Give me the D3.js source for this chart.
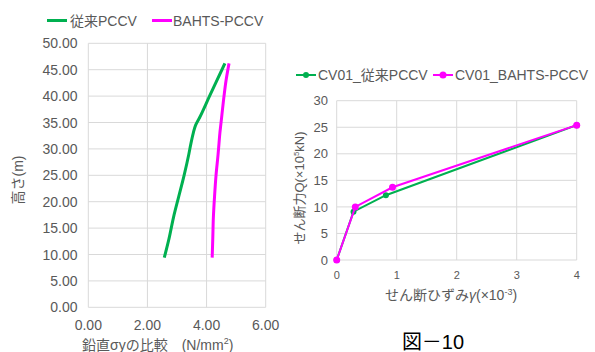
<!DOCTYPE html>
<html><head><meta charset="utf-8">
<script src="https://cdn.jsdelivr.net/npm/d3@7"></script>
<style>
html,body{margin:0;padding:0;background:#fff;}
text{font-family:"Liberation Sans",Arial,"Noto Sans CJK JP",sans-serif;fill:#595959;}
</style></head>
<body><svg id="c" width="595" height="352"></svg>
<script>
// Left chart data
const heights = [9.4, 13, 17, 21, 25, 29, 31, 33, 34.5, 36, 40, 43, 46.2];
const sigmaConventional = [2.57, 2.73, 2.88, 3.06, 3.24, 3.40, 3.47, 3.55, 3.63, 3.77, 4.10, 4.35, 4.62];
const sigmaBAHTS = [4.19, 4.21, 4.23, 4.27, 4.32, 4.39, 4.42, 4.45, 4.48, 4.51, 4.59, 4.66, 4.76];
const leftXTicks = [0, 2, 4, 6];
const leftYTicks = [0, 5, 10, 15, 20, 25, 30, 35, 40, 45, 50];
// Right chart data
const gammaConventional = [0, 0.28, 0.82, 4.0];
const shearConventional = [0, 9.1, 12.2, 25.4];
const gammaBAHTS = [0, 0.31, 0.93, 4.0];
const shearBAHTS = [0, 10.0, 13.7, 25.4];
const rightXTicks = [0, 1, 2, 3, 4];
const rightYTicks = [0, 5, 10, 15, 20, 25, 30];

const GREEN = "#00B050", MAGENTA = "#FF00FF", GRID = "#d9d9d9";
const svg = d3.select("#c");

// ---------- Left chart ----------
const lx = d3.scaleLinear().domain([0, 6]).range([88.3, 265.7]);
const ly = d3.scaleLinear().domain([0, 50]).range([307.3, 43.3]);
const L = svg.append("g");
L.selectAll(".vg").data(leftXTicks).enter().append("line")
  .attr("x1", d => lx(d)).attr("x2", d => lx(d)).attr("y1", ly(0)).attr("y2", ly(50))
  .attr("stroke", GRID).attr("stroke-width", 1);
L.selectAll(".hg").data(leftYTicks).enter().append("line")
  .attr("x1", lx(0)).attr("x2", lx(6)).attr("y1", d => ly(d)).attr("y2", d => ly(d))
  .attr("stroke", GRID).attr("stroke-width", 1);
L.selectAll(".yt").data(leftYTicks).enter().append("text")
  .attr("x", 77.5).attr("y", d => ly(d)).attr("dy", "0.36em")
  .attr("text-anchor", "end").attr("font-size", 14).text(d => d.toFixed(2));
L.selectAll(".xt").data(leftXTicks).enter().append("text")
  .attr("x", d => lx(d)).attr("y", 330).attr("text-anchor", "middle")
  .attr("font-size", 14).text(d => d.toFixed(2));
const lline = d3.line().x(d => lx(d[0])).y(d => ly(d[1])).curve(d3.curveMonotoneY);
L.append("path").datum(sigmaConventional.map((v, i) => [v, heights[i]]))
  .attr("d", lline).attr("fill", "none").attr("stroke", GREEN).attr("stroke-width", 3);
L.append("path").datum(sigmaBAHTS.map((v, i) => [v, heights[i]]))
  .attr("d", lline).attr("fill", "none").attr("stroke", MAGENTA).attr("stroke-width", 3);
// left axis titles
L.append("text").attr("transform", "translate(23,180) rotate(-90)")
  .attr("text-anchor", "middle").attr("font-size", 14).style("fill", "#595959").text("高さ(m)");
const lxt = L.append("text").attr("x", 82).attr("y", 350).attr("font-size", 14);
lxt.append("tspan").text("鉛直σyの比較　(N/mm");
lxt.append("tspan").attr("font-size", 9).attr("dy", -6).text("2");
lxt.append("tspan").attr("dy", 6).text(")");
// left legend
L.append("line").attr("x1", 47).attr("x2", 67).attr("y1", 20.5).attr("y2", 20.5)
  .attr("stroke", GREEN).attr("stroke-width", 3);
L.append("text").attr("x", 70).attr("y", 25.5).attr("font-size", 14).text("従来PCCV");
L.append("line").attr("x1", 152).attr("x2", 172).attr("y1", 20.5).attr("y2", 20.5)
  .attr("stroke", MAGENTA).attr("stroke-width", 3);
L.append("text").attr("x", 173).attr("y", 25.5).attr("font-size", 14).text("BAHTS-PCCV");

// ---------- Right chart ----------
const rx = d3.scaleLinear().domain([0, 4]).range([336.7, 576.7]);
const ry = d3.scaleLinear().domain([0, 30]).range([260, 100.7]);
const R = svg.append("g");
R.selectAll(".vg").data(rightXTicks).enter().append("line")
  .attr("x1", d => rx(d)).attr("x2", d => rx(d)).attr("y1", ry(0)).attr("y2", ry(30))
  .attr("stroke", GRID).attr("stroke-width", 1);
R.selectAll(".hg").data(rightYTicks).enter().append("line")
  .attr("x1", rx(0)).attr("x2", rx(4)).attr("y1", d => ry(d)).attr("y2", d => ry(d))
  .attr("stroke", GRID).attr("stroke-width", 1);
R.selectAll(".yt").data(rightYTicks).enter().append("text")
  .attr("x", 328).attr("y", d => ry(d)).attr("dy", "0.36em")
  .attr("text-anchor", "end").attr("font-size", 13).text(d => d);
R.selectAll(".xt").data(rightXTicks).enter().append("text")
  .attr("x", d => rx(d)).attr("y", 279).attr("text-anchor", "middle")
  .attr("font-size", 11).text(d => d);
const rline = d3.line().x(d => rx(d[0])).y(d => ry(d[1]));
const series = [
  {g: gammaConventional, q: shearConventional, c: GREEN, r: 3},
  {g: gammaBAHTS, q: shearBAHTS, c: MAGENTA, r: 3.5}
];
series.forEach(s => {
  const pts = s.g.map((v, i) => [v, s.q[i]]);
  R.append("path").datum(pts).attr("d", rline).attr("fill", "none")
    .attr("stroke", s.c).attr("stroke-width", 2);
  R.selectAll(null).data(pts).enter().append("circle")
    .attr("cx", d => rx(d[0])).attr("cy", d => ry(d[1])).attr("r", s.r).attr("fill", s.c);
});
// right axis titles
const ryt = R.append("text").attr("transform", "translate(304,188) rotate(-90)")
  .attr("text-anchor", "middle").attr("font-size", 13);
ryt.append("tspan").text("せん断力Q(×10");
ryt.append("tspan").attr("font-size", 8).attr("dy", -5).text("5");
ryt.append("tspan").attr("dy", 5).text("kN)");
const rxt = R.append("text").attr("x", 385).attr("y", 300).attr("font-size", 14);
rxt.append("tspan").text("せん断ひずみ");
rxt.append("tspan").attr("font-style", "italic").text("γ");
rxt.append("tspan").text("(×10");
rxt.append("tspan").attr("font-size", 9).attr("dy", -5).text("-3");
rxt.append("tspan").attr("dy", 5).text(")");
// right legend
R.append("line").attr("x1", 296).attr("x2", 316).attr("y1", 75).attr("y2", 75)
  .attr("stroke", GREEN).attr("stroke-width", 2);
R.append("circle").attr("cx", 306).attr("cy", 75).attr("r", 3).attr("fill", GREEN);
R.append("text").attr("x", 318).attr("y", 80).attr("font-size", 14).text("CV01_従来PCCV");
R.append("line").attr("x1", 433).attr("x2", 453).attr("y1", 75).attr("y2", 75)
  .attr("stroke", MAGENTA).attr("stroke-width", 2);
R.append("circle").attr("cx", 443).attr("cy", 75).attr("r", 3.5).attr("fill", MAGENTA);
R.append("text").attr("x", 455).attr("y", 80).attr("font-size", 14).text("CV01_BAHTS-PCCV");

// Figure label
svg.append("text").attr("x", 433).attr("y", 349).attr("text-anchor", "middle")
  .attr("font-size", 20).style("fill", "#000").text("図－10");
</script></body></html>
